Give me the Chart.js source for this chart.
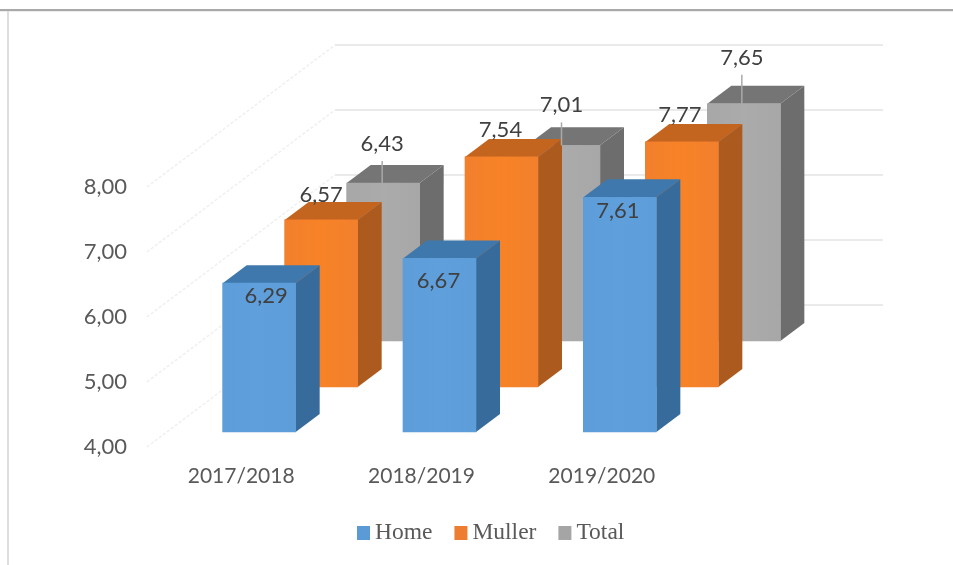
<!DOCTYPE html>
<html>
<head>
<meta charset="utf-8">
<style>
html,body{margin:0;padding:0;background:#fff;overflow:hidden}
#wrap{position:relative;width:953px;height:565px}
canvas{position:absolute;left:0;top:0}
#topline{position:absolute;left:0;top:9px;width:953px;height:2px;background:#a9a9a9;border-bottom:1px solid #ececec}
#leftline{position:absolute;left:7px;top:11px;width:2px;height:554px;background:#dedede}
</style>
<script src="https://cdn.jsdelivr.net/npm/chart.js@4/dist/chart.umd.min.js"></script>
</head>
<body>
<div id="wrap">
<canvas id="c" width="953" height="565"></canvas>
<div id="topline"></div>
<div id="leftline"></div>
</div>
<script>
const categories = ['2017/2018', '2018/2019', '2019/2020'];
const home = [6.29, 6.67, 7.61];
const muller = [6.57, 7.54, 7.77];
const total = [6.43, 7.01, 7.65];
const yTicks = [4, 5, 6, 7, 8];

const fmt = v => v.toFixed(2).replace('.', ',');
const fontFamily = 'Lato, "Open Sans", sans-serif';

// 3D look: where each series sits in depth, and the colours of its faces
const looks = [
  {dx: 18,  dy: -15,  top: '#3f78ad', side: '#366b9c', sheen: '96,160,222', label: [[7, 13], [-1, 22], [-2, 14]], leader: false},
  {dx: 80,  dy: -60,  top: '#c4651f', side: '#ad5a1f', sheen: '250,132,36', label: [[0, -25], [-1, -27], [-2, -27]], leader: false},
  {dx: 142, dy: -106, top: '#757575', side: '#6d6d6d', sheen: '172,172,172', label: [[-1, -39], [-2, -40], [-2, -46]], leader: true}
];
const depth = {x: 24, y: -18};
const wall = {x0: 147, dx: 188, dy: -142, right: 883};

const bars3d = {
  id: 'bars3d',
  beforeDatasetsDraw(chart) {
    const ctx = chart.ctx, y = chart.scales.y;
    ctx.save();
    yTicks.forEach(t => {
      const py = y.getPixelForValue(t);
      ctx.strokeStyle = '#efefef';
      ctx.lineWidth = 1.5;
      ctx.setLineDash([3, 2]);
      ctx.beginPath();
      ctx.moveTo(wall.x0, py);
      ctx.lineTo(wall.x0 + wall.dx, py + wall.dy);
      ctx.stroke();
      ctx.setLineDash([]);
      ctx.strokeStyle = '#e3e3e3';
      ctx.beginPath();
      ctx.moveTo(wall.x0 + wall.dx, py + wall.dy);
      ctx.lineTo(wall.right, py + wall.dy);
      ctx.stroke();
    });
    ctx.restore();
  },
  beforeDatasetDraw(chart, args) {
    const ctx = chart.ctx, look = looks[args.index];
    ctx.save();
    ctx.translate(look.dx, look.dy);
    args.meta.data.forEach(el => {
      const l = el.x - el.width / 2, r = el.x + el.width / 2;
      ctx.fillStyle = look.top;
      ctx.beginPath();
      ctx.moveTo(l, el.y);
      ctx.lineTo(l + depth.x, el.y + depth.y);
      ctx.lineTo(r + depth.x, el.y + depth.y);
      ctx.lineTo(r, el.y);
      ctx.closePath();
      ctx.fill();
      ctx.fillStyle = look.side;
      ctx.beginPath();
      ctx.moveTo(r, el.y);
      ctx.lineTo(r + depth.x, el.y + depth.y);
      ctx.lineTo(r + depth.x, el.base + depth.y);
      ctx.lineTo(r, el.base);
      ctx.closePath();
      ctx.fill();
    });
  },
  afterDatasetDraw(chart, args) {
    const ctx = chart.ctx, look = looks[args.index];
    args.meta.data.forEach(el => {
      const l = el.x - el.width / 2, r = el.x + el.width / 2;
      const g = ctx.createLinearGradient(l, 0, r, 0);
      g.addColorStop(0, 'rgba(' + look.sheen + ',0.35)');
      g.addColorStop(0.5, 'rgba(' + look.sheen + ',0.8)');
      g.addColorStop(1, 'rgba(' + look.sheen + ',0.35)');
      ctx.fillStyle = g;
      ctx.fillRect(l, el.y, r - l, el.base - el.y);
    });
    ctx.restore();
  },
  afterDatasetsDraw(chart) {
    const ctx = chart.ctx;
    ctx.save();
    ctx.font = '22px ' + fontFamily;
    ctx.textAlign = 'center';
    ctx.textBaseline = 'middle';
    chart.data.datasets.forEach((ds, i) => {
      const look = looks[i];
      chart.getDatasetMeta(i).data.forEach((el, j) => {
        const x = el.x + look.dx + look.label[j][0];
        const top = el.y + look.dy;
        const y = top + look.label[j][1];
        if (look.leader) {
          ctx.strokeStyle = '#a9a9a9';
          ctx.lineWidth = 1.5;
          ctx.beginPath();
          ctx.moveTo(x, y + 17);
          ctx.lineTo(x, top);
          ctx.stroke();
        }
        ctx.fillStyle = '#404040';
        ctx.fillText(fmt(ds.data[j]), x, y);
      });
    });
    ctx.restore();
  },
  afterDraw(chart) {
    const ctx = chart.ctx;
    ctx.save();
    ctx.font = '23.5px "Liberation Serif", serif';
    ctx.textBaseline = 'middle';
    ctx.textAlign = 'left';
    let x = 357;
    chart.data.datasets.forEach(ds => {
      ctx.fillStyle = ds.backgroundColor;
      ctx.fillRect(x, 526, 13, 14);
      ctx.fillStyle = '#595959';
      ctx.fillText(ds.label, x + 18, 533);
      x += 18 + ctx.measureText(ds.label).width + 22;
    });
    ctx.restore();
  }
};

new Chart(document.getElementById('c'), {
  type: 'bar',
  data: {
    labels: categories,
    datasets: [
      {label: 'Home', data: home, backgroundColor: '#5b9bd5'},
      {label: 'Muller', data: muller, backgroundColor: '#ed7d31'},
      {label: 'Total', data: total, backgroundColor: '#a5a5a5'}
    ]
  },
  options: {
    responsive: false,
    animation: false,
    events: [],
    layout: {padding: {top: 187, right: 261, left: 0, bottom: 0}},
    datasets: {bar: {grouped: false, barThickness: 73, borderWidth: 0, clip: false, base: yTicks[0]}},
    plugins: {legend: {display: false}, title: {display: false}, tooltip: {enabled: false}},
    scales: {
      x: {
        grid: {display: false, drawTicks: false},
        border: {display: false},
        ticks: {color: '#595959', padding: 17, maxRotation: 0, font: {family: fontFamily, size: 21}},
        afterFit(s) { s.height = 118; }
      },
      y: {
        min: 4, max: 8,
        grid: {display: false, drawTicks: false},
        border: {display: false},
        ticks: {
          stepSize: 1, color: '#595959', padding: 24,
          font: {family: fontFamily, size: 22},
          callback: v => fmt(v)
        },
        afterFit(s) { s.width = 151; }
      }
    }
  },
  plugins: [bars3d]
});
</script>
</body>
</html>
